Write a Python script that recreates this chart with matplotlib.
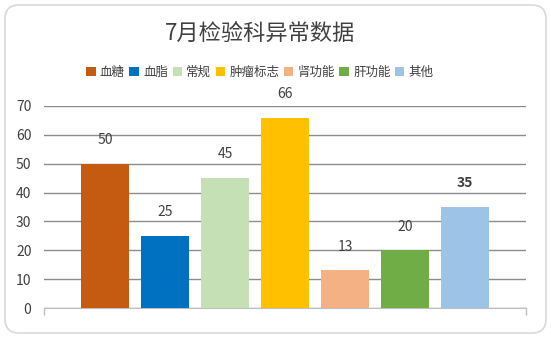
import matplotlib
matplotlib.use('Agg')
import matplotlib.pyplot as plt
from matplotlib.patches import FancyBboxPatch, Patch
from matplotlib.transforms import IdentityTransform

plt.rcParams['font.family'] = ['Noto Sans CJK SC', 'DejaVu Sans']

# 7月各类检验异常数
items = ['血糖', '血脂', '常规', '肿瘤标志', '肾功能', '肝功能', '其他']
counts = [50, 25, 45, 66, 13, 20, 35]
colors = ['#C55A11', '#0070C0', '#C5E0B4', '#FFC000', '#F4B183', '#70AD47', '#9DC3E6']

fig = plt.figure(figsize=(5.51, 3.38), dpi=100)
ax = fig.add_axes([44 / 551, 30 / 338, 482 / 551, 202 / 338])

# 圆角外框
frame = FancyBboxPatch((5, 5), 541, 328, boxstyle='round,pad=0,rounding_size=14',
                       transform=IdentityTransform(), facecolor='white',
                       edgecolor='#D9D9D9', linewidth=1.2, zorder=-10)
fig.patches.append(frame)

x = list(range(len(items)))
ax.bar(x, counts, width=0.8, color=colors, zorder=3)

for i, v in enumerate(counts):
    ax.annotate(str(v), (i, v), xytext=(0, 12), textcoords='offset points',
                ha='center', va='bottom', fontsize=10, color='#404040',
                fontweight='bold' if items[i] == '其他' else 'normal')

ax.set_xlim(-1.02, len(items) - 1 + 1.02)
ax.set_ylim(0, 70)
ax.set_yticks(range(0, 71, 10))
ax.yaxis.grid(True, color='#8C8C8C', linewidth=1)
ax.set_axisbelow(True)
ax.tick_params(axis='y', length=0, pad=9, labelsize=10, labelcolor='#404040')
ax.set_xticks([ax.get_xlim()[0], ax.get_xlim()[1]])
ax.set_xticklabels([])
ax.tick_params(axis='x', length=5, color='#BFBFBF', width=1)
for s in ['top', 'right', 'left']:
    ax.spines[s].set_visible(False)
ax.spines['bottom'].set_color('#BFBFBF')
ax.patch.set_visible(False)

fig.text(260 / 551, 1 - 33 / 338, '7月检验科异常数据', ha='center', va='center',
         fontsize=16, color='#404040')

handles = [Patch(facecolor=c, edgecolor='none') for c in colors]
fig.legend(handles, items, loc='center', bbox_to_anchor=(260 / 551, 1 - 72 / 338),
           ncol=len(items), frameon=False, fontsize=9, handlelength=0.75,
           handleheight=0.75, handletextpad=0.35, columnspacing=0.35,
           labelcolor='#404040')

fig.savefig('out.png', dpi=100)
